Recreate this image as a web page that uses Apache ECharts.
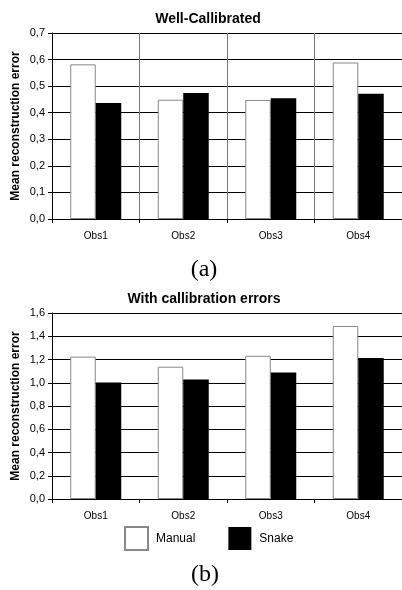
<!DOCTYPE html>
<html>
<head>
<meta charset="utf-8">
<script src="https://cdn.jsdelivr.net/npm/echarts@6/dist/echarts.min.js"></script>
<style>html,body{margin:0;padding:0;background:#fff;}#c{width:402px;height:590px;}</style>
</head>
<body>
<div id="c"></div>
<script>
var categories = ['Obs1', 'Obs2', 'Obs3', 'Obs4'];
var seriesNames = ['Manual', 'Snake'];
var manualA = [0.582, 0.449, 0.448, 0.589];
var snakeA = [0.437, 0.474, 0.454, 0.471];
var manualB = [1.225, 1.138, 1.232, 1.488];
var snakeB = [1.002, 1.027, 1.088, 1.212];
var titleA = 'Well-Callibrated';
var titleB = 'With callibration errors';
var yName = 'Mean reconstruction error';
var captionA = '(a)';
var captionB = '(b)';

var FONT = '"Liberation Sans", Arial, sans-serif';
var fmt = function (v) { return v.toFixed(1).replace('.', ','); };

function xAxisCfg(gridIndex, vlines) {
  return {
    type: 'category', gridIndex: gridIndex, data: categories,
    axisLine: { lineStyle: { color: '#000', width: 1 } },
    axisTick: { show: true, length: 4, lineStyle: { color: '#000' } },
    axisLabel: { margin: 12, fontSize: 10, color: '#000', fontFamily: FONT },
    splitLine: { show: vlines, lineStyle: { color: '#777', width: 1 } }
  };
}
function yAxisCfg(gridIndex, max, interval) {
  return {
    type: 'value', gridIndex: gridIndex, min: 0, max: max, interval: interval,
    name: yName, nameLocation: 'middle', nameRotate: 90, nameGap: 30,
    nameMoveOverlap: false,
    nameTextStyle: { fontSize: 12, fontWeight: 'bold', color: '#000', fontFamily: FONT },
    axisLine: { show: true, lineStyle: { color: '#000', width: 1 } },
    axisTick: { show: true, length: 4, lineStyle: { color: '#000' } },
    axisLabel: { margin: 7, fontSize: 11, color: '#000', fontFamily: FONT, formatter: fmt },
    splitLine: { show: true, lineStyle: { color: '#000', width: 1 } }
  };
}
function barSeries(name, data, idx, white) {
  return {
    type: 'bar', name: name, data: data, xAxisIndex: idx, yAxisIndex: idx,
    barWidth: 25.5, barGap: '0%',
    itemStyle: white ? { color: '#fff', borderColor: '#888', borderWidth: 1 }
                     : { color: '#000', borderColor: '#000', borderWidth: 0 },
    emphasis: { disabled: true }
  };
}

var chart = echarts.init(document.getElementById('c'), null, { renderer: 'canvas' });
chart.setOption({
  backgroundColor: '#fff',
  animation: false,
  grid: [
    { left: 52, top: 33, width: 352, height: 186 },
    { left: 52, top: 313, width: 352, height: 186 }
  ],
  xAxis: [xAxisCfg(0, true), xAxisCfg(1, false)],
  yAxis: [yAxisCfg(0, 0.7, 0.1), yAxisCfg(1, 1.6, 0.2)],
  legend: {
    data: seriesNames, left: 119, top: 521, icon: 'rect',
    itemWidth: 23, itemHeight: 23, itemGap: 33,
    textStyle: { fontSize: 12, color: '#000', fontFamily: FONT, padding: [0, 0, 0, 3] }
  },
  graphic: [
    { type: 'text', x: 208, y: 19, style: { text: titleA, font: 'bold 14px ' + FONT, fill: '#000', textAlign: 'center', textVerticalAlign: 'middle' } },
    { type: 'text', x: 204, y: 299, style: { text: titleB, font: 'bold 14px ' + FONT, fill: '#000', textAlign: 'center', textVerticalAlign: 'middle' } },
    { type: 'text', x: 204, y: 270, style: { text: captionA, font: '24px "Liberation Serif", "Times New Roman", serif', fill: '#000', textAlign: 'center', textVerticalAlign: 'middle' } },
    { type: 'text', x: 205, y: 575, style: { text: captionB, font: '24px "Liberation Serif", "Times New Roman", serif', fill: '#000', textAlign: 'center', textVerticalAlign: 'middle' } }
  ],
  series: [
    barSeries(seriesNames[0], manualA, 0, true),
    barSeries(seriesNames[1], snakeA, 0, false),
    barSeries(seriesNames[0], manualB, 1, true),
    barSeries(seriesNames[1], snakeB, 1, false)
  ]
});
</script>
</body>
</html>
